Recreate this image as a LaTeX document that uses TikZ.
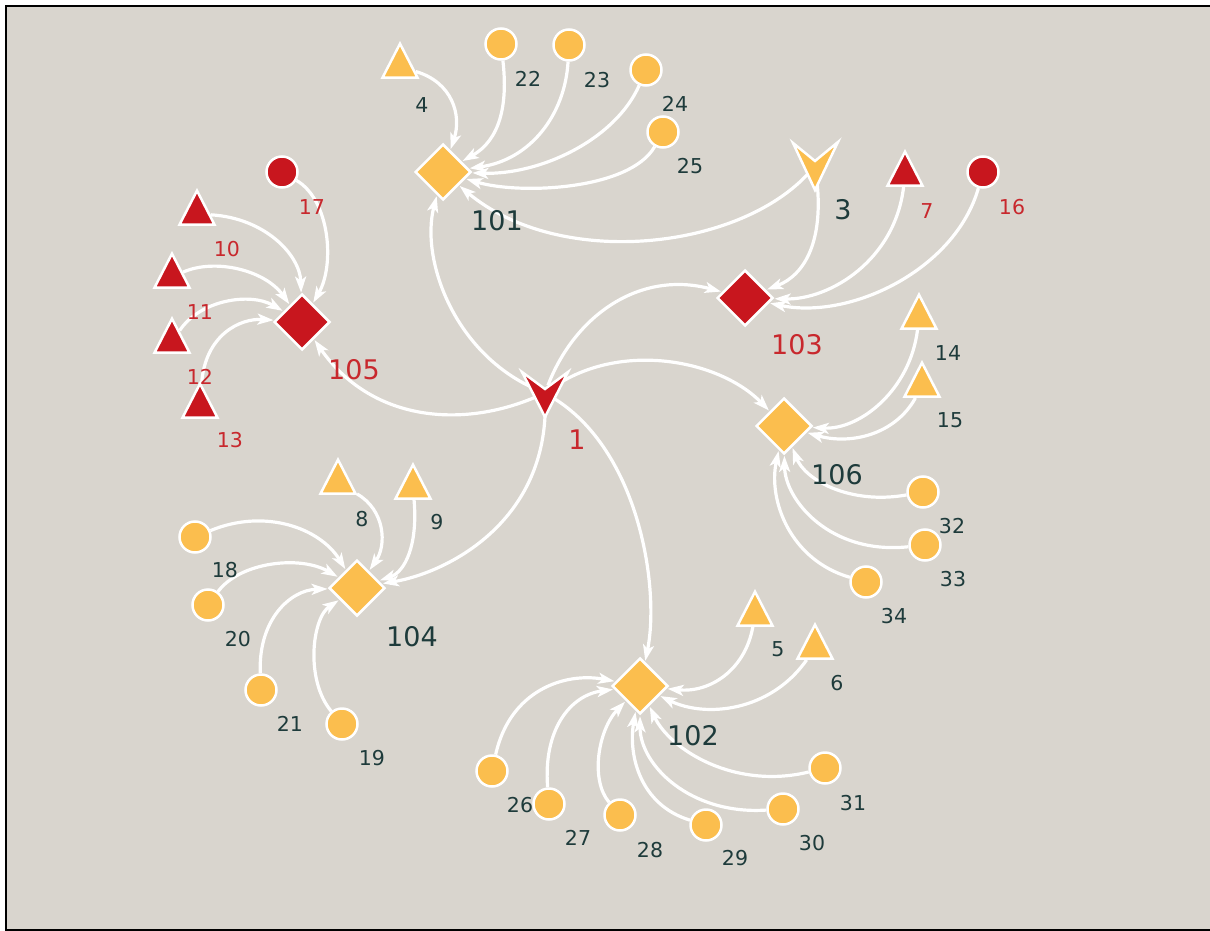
\documentclass[tikz,border=0pt]{standalone}
\usepackage{fontspec}
\setmainfont{DejaVu Sans}
\usetikzlibrary{shapes.geometric,arrows.meta}
\definecolor{cbg}{HTML}{D9D5CE}
\definecolor{cyel}{HTML}{FBBE4E}
\definecolor{cred}{HTML}{C8161E}
\definecolor{clab}{HTML}{1E3B3B}
\definecolor{crlab}{HTML}{C8282D}
\pgfdeclarelayer{bgl}
\pgfdeclarelayer{edgel}
\pgfsetlayers{bgl,edgel,main}
\tikzset{
  edge/.style={draw=white, line width=3.2pt, -{Stealth[length=16pt,width=11pt,inset=4pt]}, shorten >=1pt},
  leafc/.style={circle, minimum size=31pt, inner sep=0pt, draw=white, line width=2.5pt},
  tri/.style={isosceles triangle, isosceles triangle stretches, shape border rotate=90,
              minimum width=35pt, minimum height=34pt, inner sep=0pt, draw=white, line width=2.5pt},
  hub/.style={diamond, minimum size=56pt, inner sep=0pt, draw=white, line width=2.5pt},
  hit/.style={circle, minimum size=16pt, inner sep=0pt},
  chev/.style={draw=white, line width=2.5pt, line join=miter},
  yel/.style={fill=cyel},
  redf/.style={fill=cred},
  lab/.style={font=\fontsize{20.5}{24}\selectfont, text=clab, inner sep=0pt},
  rlab/.style={lab, text=crlab},
  hlab/.style={font=\fontsize{27}{32}\selectfont, text=clab, inner sep=0pt},
  rhlab/.style={hlab, text=crlab}
}
\begin{document}
\begin{tikzpicture}[x=1pt,y=-1pt]
\useasboundingbox (0,0) rectangle (1210,931);
\begin{pgfonlayer}{bgl}
\fill[white] (0,0) rectangle (1210,931);
\fill[cbg] (6,6) rectangle (1210,930);
\draw[black, line width=2.2pt] (1211,6) -- (6,6) -- (6,930) -- (1211,930);
\end{pgfonlayer}

% hubs
\node[hub,yel]  (n101) at (443,172) {};
\node[hub,yel]  (n102) at (640,686) {};
\node[hub,redf] (n103) at (745,298) {};
\node[hub,yel]  (n104) at (357,588) {};
\node[hub,redf] (n105) at (302,322) {};
\node[hub,yel]  (n106) at (784,426) {};

% chevrons
\node[hit] (n1) at (545,393) {};
\filldraw[chev, fill=cred] (522,372) -- (545,389) -- (568,372) -- (545,417) -- cycle;
\node[hit] (n3) at (815,166) {};
\filldraw[chev, fill=cyel] (793,143) -- (815,161) -- (838,142) -- (815,190) -- cycle;

% triangles
\node[tri,yel]  (n4)  at (400,67) {};
\node[tri,redf] (n7)  at (905,175) {};
\node[tri,redf] (n10) at (197,214) {};
\node[tri,redf] (n11) at (172,277) {};
\node[tri,redf] (n12) at (172,342) {};
\node[tri,redf] (n13) at (200,407) {};
\node[tri,yel]  (n14) at (919,318) {};
\node[tri,yel]  (n15) at (922,386) {};
\node[tri,yel]  (n5)  at (755,615) {};
\node[tri,yel]  (n6)  at (815,648) {};
\node[tri,yel]  (n8)  at (338,483) {};
\node[tri,yel]  (n9)  at (413,488) {};

% circles
\node[leafc,yel]  (n22) at (501,44) {};
\node[leafc,yel]  (n23) at (569,45) {};
\node[leafc,yel]  (n24) at (646,70) {};
\node[leafc,yel]  (n25) at (663,132) {};
\node[leafc,redf] (n16) at (983,172) {};
\node[leafc,redf] (n17) at (282,172) {};
\node[leafc,yel]  (n32) at (923,492) {};
\node[leafc,yel]  (n33) at (925,545) {};
\node[leafc,yel]  (n34) at (866,582) {};
\node[leafc,yel]  (n31) at (825,768) {};
\node[leafc,yel]  (n30) at (783,809) {};
\node[leafc,yel]  (n29) at (706,825) {};
\node[leafc,yel]  (n28) at (620,815) {};
\node[leafc,yel]  (n27) at (549,804) {};
\node[leafc,yel]  (n26) at (492,771) {};
\node[leafc,yel]  (n18) at (195,537) {};
\node[leafc,yel]  (n20) at (208,605) {};
\node[leafc,yel]  (n21) at (261,690) {};
\node[leafc,yel]  (n19) at (342,724) {};

% labels
\node[rhlab] (l1) at (577,440) {1};
\node[hlab] (l3) at (843,210) {3};
\node[hlab] (l101) at (497,221) {101};
\node[hlab] (l102) at (693,736) {102};
\node[rhlab] (l103) at (797,345) {103};
\node[hlab] (l104) at (412,637) {104};
\node[rhlab] (l105) at (354,370) {105};
\node[hlab] (l106) at (837,475) {106};
\node[lab] (l4) at (422,105) {4};
\node[lab] (l22) at (528,79) {22};
\node[lab] (l23) at (597,80) {23};
\node[lab] (l24) at (675,104) {24};
\node[lab] (l25) at (690,166) {25};
\node[rlab] (l7) at (927,211) {7};
\node[rlab] (l16) at (1012,207) {16};
\node[rlab] (l17) at (312,207) {17};
\node[rlab] (l10) at (227,249) {10};
\node[rlab] (l11) at (200,312) {11};
\node[rlab] (l12) at (200,377) {12};
\node[rlab] (l13) at (230,440) {13};
\node[lab] (l14) at (948,353) {14};
\node[lab] (l15) at (950,420) {15};
\node[lab] (l32) at (952,526) {32};
\node[lab] (l33) at (953,579) {33};
\node[lab] (l34) at (894,616) {34};
\node[lab] (l5) at (778,649) {5};
\node[lab] (l6) at (837,683) {6};
\node[lab] (l31) at (853,803) {31};
\node[lab] (l30) at (812,843) {30};
\node[lab] (l29) at (735,858) {29};
\node[lab] (l28) at (650,850) {28};
\node[lab] (l27) at (578,838) {27};
\node[lab] (l26) at (520,805) {26};
\node[lab] (l8) at (362,519) {8};
\node[lab] (l9) at (437,522) {9};
\node[lab] (l18) at (225,570) {18};
\node[lab] (l20) at (238,639) {20};
\node[lab] (l21) at (290,724) {21};
\node[lab] (l19) at (372,758) {19};

\begin{pgfonlayer}{edgel}
% hub 1
\draw[edge] (n1) .. controls (455,355) and (420,260) .. (n101);
\draw[edge] (n1) .. controls (575,315) and (640,270) .. (n103);
\draw[edge] (n1) .. controls (620,340) and (720,360) .. (n106);
\draw[edge] (n1) .. controls (640,450) and (660,590) .. (n102);
\draw[edge] (n1) .. controls (548,520) and (450,572) .. (n104);
\draw[edge] (n1) .. controls (460,430) and (370,420) .. (n105);
% hub 3
\draw[edge] (n3) .. controls (740,250) and (560,270) .. (n101);
\draw[edge] (n3) .. controls (825,240) and (805,275) .. (n103);
% 101
\draw[edge] (n4)  .. controls (452,82) and (462,115) .. (n101);
\draw[edge] (n22) .. controls (508,105) and (500,140) .. (n101);
\draw[edge] (n23) .. controls (565,115) and (530,160) .. (n101);
\draw[edge] (n24) .. controls (615,140) and (540,175) .. (n101);
\draw[edge] (n25) .. controls (630,190) and (520,195) .. (n101);
% 103
\draw[edge] (n7)  .. controls (895,260) and (830,300) .. (n103);
\draw[edge] (n16) .. controls (955,270) and (850,320) .. (n103);
% 105
\draw[edge] (n17) .. controls (330,200) and (335,265) .. (n105);
\draw[edge] (n10) .. controls (265,218) and (300,255) .. (n105);
\draw[edge] (n11) .. controls (215,258) and (265,270) .. (n105);
\draw[edge] (n12) .. controls (200,300) and (250,292) .. (n105);
\draw[edge] (n13) .. controls (205,335) and (240,318) .. (n105);
% 106
\draw[edge] (n14) .. controls (910,390) and (860,430) .. (n106);
\draw[edge] (n15) .. controls (895,435) and (850,445) .. (n106);
\draw[edge] (n32) .. controls (850,505) and (805,480) .. (n106);
\draw[edge] (n33) .. controls (830,555) and (785,500) .. (n106);
\draw[edge] (n34) .. controls (790,560) and (768,500) .. (n106);
% 102
\draw[edge] (n5)  .. controls (745,670) and (710,693) .. (n102);
\draw[edge] (n6)  .. controls (770,712) and (705,718) .. (n102);
\draw[edge] (n31) .. controls (735,790) and (670,750) .. (n102);
\draw[edge] (n30) .. controls (690,815) and (640,765) .. (n102);
\draw[edge] (n29) .. controls (640,805) and (628,755) .. (n102);
\draw[edge] (n28) .. controls (590,780) and (598,730) .. (n102);
\draw[edge] (n27) .. controls (543,730) and (570,695) .. (n102);
\draw[edge] (n26) .. controls (510,690) and (565,672) .. (n102);
% 104
\draw[edge] (n8)  .. controls (385,510) and (387,545) .. (n104);
\draw[edge] (n9)  .. controls (418,545) and (405,572) .. (n104);
\draw[edge] (n18) .. controls (265,508) and (320,528) .. (n104);
\draw[edge] (n20) .. controls (240,562) and (300,555) .. (n104);
\draw[edge] (n21) .. controls (258,620) and (290,590) .. (n104);
\draw[edge] (n19) .. controls (305,680) and (312,618) .. (n104);
\end{pgfonlayer}
\end{tikzpicture}
\end{document}
